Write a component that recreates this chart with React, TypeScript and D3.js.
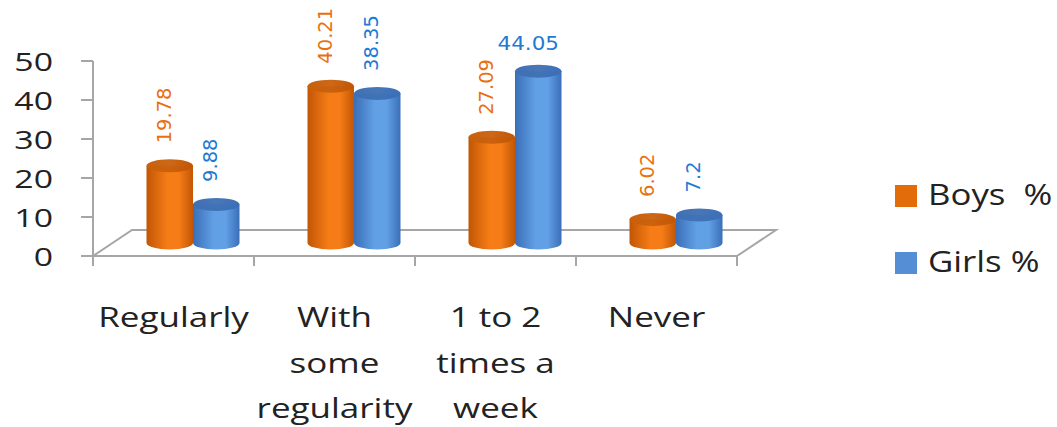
import React from "react";
import * as d3 from "d3";

// Survey answers per frequency group, in percent
const categories = ["Regularly", "With some regularity", "1 to 2 times a week", "Never"];
const categoryLines = [["Regularly"], ["With", "some", "regularity"], ["1 to 2", "times a", "week"], ["Never"]];
const seriesNames = ["Boys  %", "Girls %"];
const boys = [19.78, 40.21, 27.09, 6.02];
const girls = [9.88, 38.35, 44.05, 7.2];
const yTicks = [0, 10, 20, 30, 40, 50];

const W = 1057;
const H = 427;

const ORANGE = { dark: "#c25605", light: "#f57c16", top: "#c9600c", label: "#e8700e", legend: "#e36c0a" };
const BLUE = { dark: "#3a6fb8", light: "#62a0e6", top: "#3f70b4", label: "#1f7ad4", legend: "#558ed5" };

const AXIS = "#a6a6a6";
const TEXT = "#222222";
const FONT = "Open Sans";
const SX = 1.25; // horizontal stretch of the text glyphs

function SText(props: {
  x: number; y: number; size: number; anchor?: string; fill?: string; sx?: number; family?: string; children: React.ReactNode;
}) {
  const { x, y, size, anchor = "start", fill = TEXT, sx = SX, family = FONT, children } = props;
  return (
    <text
      transform={`translate(${x},${y}) scale(${sx},1)`}
      fontFamily={family}
      fontSize={size}
      textAnchor={anchor}
      fill={fill}
    >
      {children}
    </text>
  );
}

export default function App() {
  const x = d3.scaleBand<string>().domain(categories).range([93, 737]).paddingInner(0).paddingOuter(0);
  const y = d3.scaleLinear().domain([0, 50]).range([256, 61]);

  // floor depth (back edge offset) and bar depth (mid plane)
  const depthX = 39;
  const depthY = -26;
  const midX = depthX / 2;
  const midY = depthY / 2;

  const bw = x.bandwidth();
  const barW = 46.5;
  const rx = barW / 2;
  const ry = 6.5;

  const series = [
    { name: seriesNames[0], values: boys, c: ORANGE, id: "boys" },
    { name: seriesNames[1], values: girls, c: BLUE, id: "girls" },
  ];

  const baseY = y(0) + midY;

  const cylinder = (cx: number, v: number, id: string, key: string) => {
    const topY = y(v) + midY;
    const x0 = cx - rx;
    const x1 = cx + rx;
    const body = `M${x0},${topY} V${baseY} A${rx},${ry} 0 0 0 ${x1},${baseY} V${topY} Z`;
    return (
      <g key={key}>
        <path d={body} fill={`url(#body-${id})`} />
        <ellipse cx={cx} cy={topY} rx={rx} ry={ry} fill={`url(#top-${id})`} />
      </g>
    );
  };

  const floorFront = y(0);
  const xs = x(categories[0]) as number;
  const xe = (x(categories[categories.length - 1]) as number) + bw;

  return (
    <svg width={W} height={H} style={{ position: "absolute", left: 0, top: 0, background: "#fff" }}>
      <defs>
        {series.map((s) => (
          <React.Fragment key={s.id}>
            <linearGradient id={`body-${s.id}`} x1="0" x2="1" y1="0" y2="0">
              <stop offset="0" stopColor={s.c.dark} />
              <stop offset="0.45" stopColor={s.c.light} />
              <stop offset="0.7" stopColor={s.c.light} />
              <stop offset="1" stopColor={s.c.dark} />
            </linearGradient>
            <linearGradient id={`top-${s.id}`} x1="0" x2="1" y1="0" y2="0">
              <stop offset="0" stopColor={s.c.top} />
              <stop offset="0.5" stopColor={s.c.top} stopOpacity={0.95} />
              <stop offset="1" stopColor={s.c.dark} />
            </linearGradient>
          </React.Fragment>
        ))}
      </defs>

      {/* floor */}
      <g fill="none" stroke={AXIS} strokeWidth={2}>
        <path d={`M${xs},${floorFront} L${xs + depthX},${floorFront + depthY} H${xe + depthX} L${xe},${floorFront}`} />
        <line x1={xs} x2={xe} y1={floorFront} y2={floorFront} />
        {categories.map((cat) => (
          <line key={cat} x1={(x(cat) as number) + bw} x2={(x(cat) as number) + bw} y1={floorFront} y2={floorFront + 10} />
        ))}
        <line x1={xs} x2={xs} y1={floorFront + 10} y2={floorFront} />
        {/* value axis */}
        <line x1={xs} x2={xs} y1={y(50)} y2={floorFront} />
        {yTicks.map((t) => (
          <line key={t} x1={xs - 12} x2={xs} y1={y(t)} y2={y(t)} />
        ))}
      </g>

      {/* value axis labels */}
      {yTicks.map((t) => (
        <SText key={t} x={53} y={y(t) + 9.5} size={26} anchor="end" sx={1.3}>
          {t}
        </SText>
      ))}

      {/* cylinders */}
      {categories.map((cat, i) => {
        const center = (x(cat) as number) + bw / 2 + midX;
        return (
          <g key={cat}>
            {series.map((s, j) => cylinder(center + (j === 0 ? -rx : rx), s.values[i], s.id, `${cat}-${s.id}`))}
          </g>
        );
      })}

      {/* value labels */}
      {categories.map((cat, i) => {
        const center = (x(cat) as number) + bw / 2 + midX;
        return series.map((s, j) => {
          const cx = center + (j === 0 ? -rx : rx);
          const v = s.values[i];
          const topY = y(v) + midY - ry;
          if (topY - 75 < 0) {
            return (
              <SText key={`${cat}-${s.id}`} x={cx - 10} y={topY - 15} size={19.5} anchor="middle" fill={s.c.label} family="DejaVu Sans" sx={1.1}>
                {String(v)}
              </SText>
            );
          }
          return (
            <text
              key={`${cat}-${s.id}`}
              transform={`translate(${cx - 6},${topY - 16}) rotate(-90)`}
              fontFamily="DejaVu Sans"
              fontSize={19.5}
              dy="0.36em"
              fill={s.c.label}
            >
              {String(v)}
            </text>
          );
        });
      })}

      {/* category labels */}
      {categories.map((cat, i) => {
        const cx = (x(cat) as number) + bw / 2;
        return categoryLines[i].map((line, k) => (
          <SText key={`${cat}-${k}`} x={cx} y={327 + k * 45.5} size={28} anchor="middle">
            {line}
          </SText>
        ));
      })}

      {/* legend */}
      {series.map((s, j) => (
        <g key={s.id}>
          <rect x={895} y={185 + j * 67} width={22} height={22} fill={s.c.legend} />
          <SText x={928} y={205 + j * 67} size={29} sx={1.2}>
            {s.name.replace(/ /g, "\u00a0")}
          </SText>
        </g>
      ))}
    </svg>
  );
}
